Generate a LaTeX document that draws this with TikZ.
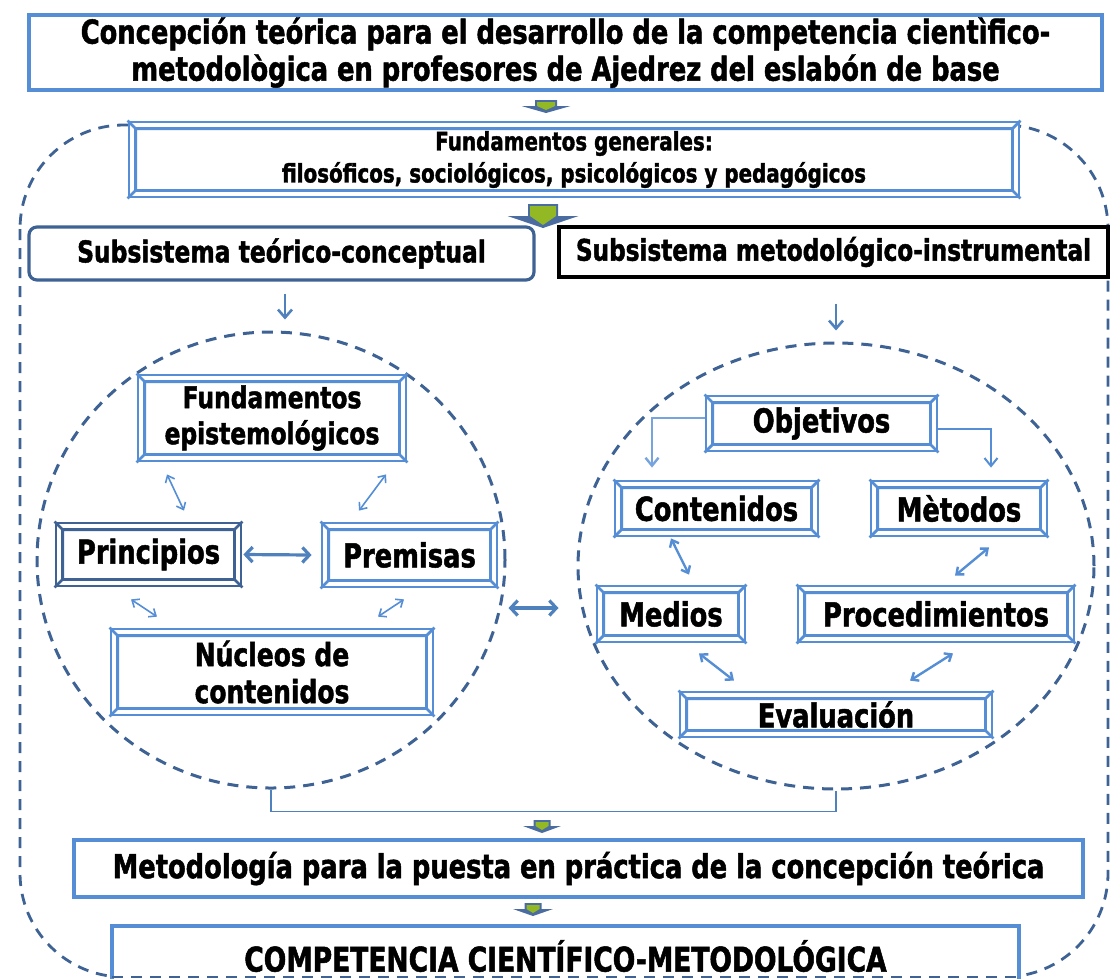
\documentclass[tikz,border=0pt]{standalone}
\usepackage{fontspec}
\setmainfont{DejaVu Sans}[FakeStretch=0.78, BoldFeatures={FakeBold=1.5}]
\usepackage{tikz}
\usetikzlibrary{
    arrows.meta,
    shapes.geometric,
    calc,
    positioning
}
\definecolor{lblue}{RGB}{85,142,213}
\definecolor{dblue}{RGB}{62,98,148}
\definecolor{mblue}{RGB}{79,129,189}
\definecolor{ablue}{RGB}{74,108,160}
\definecolor{agreen}{RGB}{146,184,36}
\tikzset{
    plainbox/.style={draw=lblue, line width=3.2pt, fill=white, inner sep=0pt, align=center},
    bevelbox/.style={draw=lblue, line width=2.8pt, fill=white, inner sep=0pt, align=center,
        font=\bfseries\fontsize{33}{37}\selectfont},
    ring/.style={ellipse, draw=dblue, line width=3pt, dash pattern=on 11pt off 8pt, inner sep=0pt},
    outerline/.style={draw=dblue, line width=2.8pt, dash pattern=on 11pt off 8pt},
    biarr/.style={lblue, line width=1.6pt, {Straight Barb[length=6pt,width=10pt]}-{Straight Barb[length=6pt,width=10pt]}},
    bigbiarr/.style={mblue, line width=3.2pt, {Straight Barb[length=7pt,width=15pt]}-{Straight Barb[length=7pt,width=15pt]}},
    downarr/.style={mblue, line width=2.6pt, -{Straight Barb[length=8pt,width=14pt]}}
}

\begin{document}
\begin{tikzpicture}[x=1pt, y=-1pt]
    \useasboundingbox (0,0) rectangle (1110,978);

    \draw[outerline, rounded corners=104pt] (20,125) rectangle (1108,977);

    \node[plainbox, minimum width=1073pt, minimum height=75pt,
        font=\bfseries\fontsize{33}{37}\selectfont] (titulo) at (565.5,52.5)
        {Concepción teórica para el desarrollo de la competencia cientìfico-\\metodològica en profesores de Ajedrez del eslabón de base};
    \node[bevelbox, minimum width=890pt, minimum height=75pt,
        font=\bfseries\fontsize{25.5}{32}\selectfont] (fg) at (574,159.5)
        {Fundamentos generales:\\filosóficos, sociológicos, psicológicos y pedagógicos};
    \node[plainbox, draw=dblue, rounded corners=8pt, minimum width=505pt, minimum height=53pt,
        font=\bfseries\fontsize{30}{36}\selectfont] (stc) at (281.5,253.5)
        {Subsistema teórico-conceptual};
    \node[plainbox, draw=black, minimum width=549pt, minimum height=50pt,
        font=\bfseries\fontsize{29.7}{36}\selectfont] (smi) at (833.5,252)
        {Subsistema metodológico-instrumental};

    \node[ring, minimum width=468pt, minimum height=456pt] (cl) at (271,560) {};
    \node[ring, minimum width=516pt, minimum height=446pt] (cr) at (836,566) {};

    \node[bevelbox, minimum width=268pt, minimum height=86pt,
        font=\bfseries\fontsize{30}{36}\selectfont] (fe) at (272,418)
        {Fundamentos\\epistemológicos};
    \node[bevelbox, draw=dblue, minimum width=185pt, minimum height=63pt] (pri) at (148.5,554.5) {Principios};
    \node[bevelbox, minimum width=175pt, minimum height=64pt] (pre) at (409.5,555) {Premisas};
    \node[bevelbox, minimum width=322pt, minimum height=86pt,
        font=\bfseries\fontsize{32}{37}\selectfont] (nuc) at (272,672)
        {Núcleos de\\contenidos};

    \node[bevelbox, minimum width=231pt, minimum height=55pt] (obj) at (821.5,423.5) {Objetivos};
    \node[bevelbox, minimum width=203pt, minimum height=55pt] (cont) at (716.5,508.5) {Contenidos};
    \node[bevelbox, minimum width=176pt, minimum height=55pt] (met) at (959,508.5) {Mètodos};
    \node[bevelbox, minimum width=148pt, minimum height=56pt] (med) at (671,614) {Medios};
    \node[bevelbox, minimum width=276pt, minimum height=56pt] (proc) at (936,614) {Procedimientos};
    \node[bevelbox, minimum width=312pt, minimum height=45pt] (eva) at (836,714.5) {Evaluación};

    \node[plainbox, minimum width=1009pt, minimum height=57pt,
        font=\bfseries\fontsize{33}{37}\selectfont] (meto) at (578.5,868.5)
        {Metodología para la puesta en práctica de la concepción teórica};
    \node[plainbox, minimum width=907pt, minimum height=60pt,
        font=\bfseries\fontsize{34}{38}\selectfont] (comp) at (565.5,956)
        {COMPETENCIA CIENTÍFICO-METODOLÓGICA};

    \foreach \n/\c in {fg/lblue, fe/lblue, pri/dblue, pre/lblue, nuc/lblue, obj/lblue,
                        cont/lblue, met/lblue, med/lblue, proc/lblue, eva/lblue}
        \draw[\c, line width=2.8pt]
            ($(\n.south west)+(8pt,8pt)$) rectangle ($(\n.north east)+(-8pt,-8pt)$)
            (\n.south west) -- ++(8pt,8pt)
            (\n.south east) -- ++(-8pt,8pt)
            (\n.north east) -- ++(-8pt,-8pt)
            (\n.north west) -- ++(8pt,-8pt);

    \foreach \cx/\ty/\hy/\by/\hw/\sw in {546/100/106/113/49/22, 543/204/216/228/71/30,
                                        542/820/826/833/38/17, 533/903/909/916/40/17}
    {
        \fill[ablue] (\cx-\sw/2,\ty) -- (\cx+\sw/2,\ty) -- (\cx+\sw/2,\hy) -- (\cx+\hw/2,\hy)
            -- (\cx,\by) -- (\cx-\hw/2,\hy) -- (\cx-\sw/2,\hy) -- cycle;
        \fill[agreen] (\cx-\sw/2+2,\ty+2) -- (\cx+\sw/2-2,\ty+2) -- (\cx+\sw/2-2,\hy)
            -- (\cx,\by-3) -- (\cx-\sw/2+2,\hy) -- cycle;
    }

    \draw[downarr] ([shift={(3.5pt,-12pt)}]stc.south) -- ([shift={(14pt,11pt)}]cl.north);
    \draw[downarr] ([shift={(2.5pt,-25pt)}]smi.south) -- ([shift={(0pt,11pt)}]cr.north);

    \draw[biarr] ([shift={(-105pt,-12pt)}]fe.south) -- ([shift={(35.5pt,11pt)}]pri.north);
    \draw[biarr] ([shift={(114pt,-12pt)}]fe.south) -- ([shift={(-50.5pt,11pt)}]pre.north);
    \draw[bigbiarr] ([xshift=1pt]pri.east) -- ([xshift=-9pt]pre.west);
    \draw[biarr] ([shift={(-17.5pt,-12pt)}]pri.south) -- ([shift={(-115pt,11pt)}]nuc.north);
    \draw[biarr] ([shift={(-5.5pt,-11pt)}]pre.south) -- ([shift={(106pt,11pt)}]nuc.north);

    \draw[lblue!80, line width=2.4pt, -{Straight Barb[length=8pt,width=13pt]}]
        ([yshift=5.5pt]obj.west) -| ([shift={(-64.5pt,12pt)}]cont.north);
    \draw[lblue, line width=2pt, -{Straight Barb[length=8pt,width=13pt]}]
        ([yshift=-5.5pt]obj.east) -| ([shift={(32pt,12pt)}]met.north);
    \draw[biarr, line width=2.4pt] ([shift={(-45.5pt,-1pt)}]cont.south) -- ([shift={(18pt,10pt)}]med.north);
    \draw[biarr, line width=2.4pt] ([shift={(30pt,-10pt)}]met.south) -- ([shift={(19pt,9pt)}]proc.north);
    \draw[biarr, line width=2.4pt] ([shift={(28pt,-10pt)}]med.south) -- ([shift={(-102pt,10pt)}]eva.north);
    \draw[biarr, line width=2.4pt] ([shift={(17pt,-10pt)}]proc.south) -- ([shift={(74pt,10pt)}]eva.north);

    \draw[bigbiarr] ([shift={(2pt,-48pt)}]cl.east) -- ([shift={(-18pt,-42pt)}]cr.west);
    \draw[mblue, line width=1.6pt] (cl.south) -- ++(0pt,-22pt) -| (cr.south);

    \draw[outerline] (112,977) -- (1019,977);
\end{tikzpicture}
\end{document}
